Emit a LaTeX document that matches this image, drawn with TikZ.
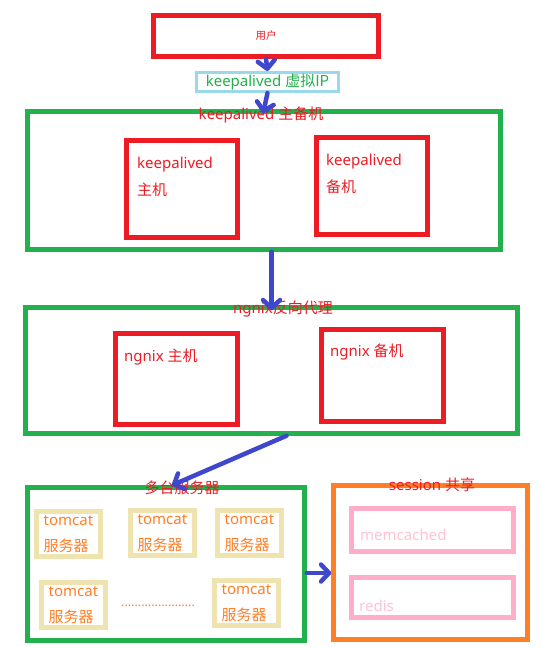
\documentclass[tikz,border=0pt]{standalone}
\usepackage{fontspec}
\setmainfont{Noto Sans}
\newfontfamily\cjk{Noto Sans CJK SC}
\usepackage{xcolor}
\usepackage{tikz}
\usetikzlibrary{arrows.meta, positioning}
\definecolor{kred}{HTML}{ED1C24}
\definecolor{kgreen}{HTML}{22B14C}
\definecolor{kblue}{HTML}{3F48CC}
\definecolor{ksky}{HTML}{99D9EA}
\definecolor{korange}{HTML}{FF7F27}
\definecolor{ktan}{HTML}{EFE4B0}
\definecolor{kpink}{HTML}{FFAEC9}
\definecolor{kpinktext}{HTML}{FFC3D3}

\begin{document}
\begin{tikzpicture}[x=1pt, y=-1pt,
  box/.style={draw, rectangle, inner sep=0pt, line width=4.5pt},
  redbox/.style={box, draw=kred, minimum width=111pt, minimum height=97pt},
  greenbox/.style={box, draw=kgreen},
  tomcatbox/.style={box, draw=ktan, fill=white, minimum width=64pt, minimum height=45pt,
    align=left, text=korange, font=\fontsize{15}{26}\selectfont},
  pinkbox/.style={box, draw=kpink, minimum width=162pt},
  title/.style={font=\fontsize{15}{16}\selectfont, text=kred, inner sep=0pt},
  lbl/.style={font=\fontsize{15}{27}\selectfont, text=kred, align=left, anchor=west, inner sep=0pt},
  flow/.style={kblue, line width=4.5pt, line cap=round,
    -{Straight Barb[length=8pt, width=17pt, round]}}]
\useasboundingbox[fill=white] (0,0) rectangle (541,647);

% user and virtual ip
\node[box, draw=kred, minimum width=225pt, minimum height=41pt, text=kred,
  font=\fontsize{10.5}{12}\selectfont\cjk] (user) at (266,36) {用户};
\node[box, draw=ksky, line width=3pt, minimum width=142pt, minimum height=19pt,
  text=kgreen, font=\fontsize{15}{16}\selectfont] (vip) at (267.5,82) {keepalived {\cjk 虚拟IP}};

% keepalived pair
\node[greenbox, minimum width=473pt, minimum height=138pt] (ka) at (264,180.5) {};
\node[title] (katitle) at (261,115) {keepalived {\cjk 主备机}};
\node[redbox] (kamain) at (182,189) {};
\node[lbl, anchor=north west] (kamaintext) at (137,157) {keepalived\\{\cjk 主机}};
\node[redbox] (kaback) at (372,186) {};
\node[lbl, anchor=north west] (kabacktext) at (326,154) {keepalived\\{\cjk 备机}};

% ngnix pair
\node[greenbox, minimum width=492pt, minimum height=126pt] (ngx) at (271.5,370.5) {};
\node[title] (ngxtitle) at (283,309) {ngnix{\cjk 反向代理}};
\node[redbox, minimum width=122pt, minimum height=91pt] (ngxmain) at (176.5,379) {};
\node[lbl] (ngxmaintext) at (124,357) {ngnix {\cjk 主机}};
\node[redbox, minimum width=122pt, minimum height=92pt] (ngxback) at (382.5,375.5) {};
\node[lbl] (ngxbacktext) at (330,352) {ngnix {\cjk 备机}};

% tomcat servers
\node[greenbox, minimum width=277pt, minimum height=153pt] (svr) at (166,564) {};
\node[title] (svrtitle) at (182,488) {\cjk 多台服务器};
\node[tomcatbox] (tc1) at (68.5,534) {tomcat\\{\cjk 服务器}};
\node[tomcatbox] (tc2) at (162.5,533) {tomcat\\{\cjk 服务器}};
\node[tomcatbox] (tc3) at (249.5,533) {tomcat\\{\cjk 服务器}};
\node[tomcatbox] (tc4) at (73.5,605) {tomcat\\{\cjk 服务器}};
\node[tomcatbox] (tc5) at (246.5,603) {tomcat\\{\cjk 服务器}};
\node[text=korange, font=\fontsize{12.5}{14}\selectfont, inner sep=0pt] (dots) at (158,606) {......................};

% session sharing
\node[box, draw=korange, minimum width=194pt, minimum height=154pt] (sess) at (430.5,562.5) {};
\node[title] (sesstitle) at (432,485) {session {\cjk 共享}};
\node[pinkbox, minimum height=43pt] (mem) at (432.5,530) {};
\node[lbl, text=kpinktext] (memtext) at (360,535) {memcached};
\node[pinkbox, minimum height=40pt] (redis) at (432.5,597.5) {};
\node[lbl, text=kpinktext] (redistext) at (359,606) {redis};

% arrows
\draw[flow] (user.south) -- (vip.north);
\draw[flow, shorten >=-4pt] (vip.south) -- (ka.north);
\draw[flow, shorten >=-5pt] (ngx.north |- ka.south) -- (ngx.north);
\draw[flow] ([xshift=15pt]ngx.south) -- ([xshift=6pt]svr.north);
\draw[flow] ([yshift=-9pt]svr.east) -- ([yshift=-10.5pt]sess.west);
\end{tikzpicture}
\end{document}
